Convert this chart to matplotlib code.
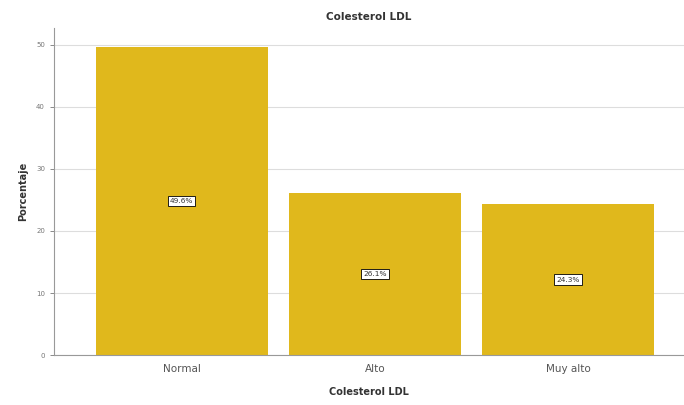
import matplotlib
matplotlib.use("Agg")
from matplotlib import pyplot as plt

# data
categories = ["Normal", "Alto", "Muy alto"]
percentages = [49.6, 26.1, 24.3]
bar_labels = ["49.6%", "26.1%", "24.3%"]
y_ticks = [0, 10, 20, 30, 40, 50]

bar_color = "#E0B81C"

fig = plt.figure(figsize=(6.84, 4.05), dpi=100)
ax = fig.add_axes([0.079, 0.123, 0.921, 0.807])

x = list(range(len(categories)))
ax.bar(x, percentages, width=0.89, color=bar_color, zorder=2)

for xi, val, lab in zip(x, percentages, bar_labels):
    ax.text(xi, val / 2, lab, ha="center", va="center", fontsize=5.3, color="#333333",
            bbox=dict(boxstyle="square,pad=0.3", fc="white", ec="black", lw=0.6), zorder=3)

ax.set_xlim(-0.66, 2.6)
ax.set_ylim(0, 52.6)
ax.set_yticks(y_ticks)
ax.set_xticks(x)
ax.set_xticklabels(categories, fontsize=7.5, color="#555555")
ax.tick_params(axis="y", labelsize=5, colors="#777777", length=3, width=0.6)
ax.tick_params(axis="x", length=0, pad=6)

ax.grid(axis="y", color="#dddddd", lw=0.8, zorder=0)
for side in ["top", "right"]:
    ax.spines[side].set_visible(False)
for side in ["left", "bottom"]:
    ax.spines[side].set_color("#999999")
    ax.spines[side].set_linewidth(0.8)

ax.set_title("Colesterol LDL", fontsize=7.5, fontweight="bold", color="#333333", pad=6)
ax.set_xlabel("Colesterol LDL", fontsize=7, fontweight="bold", color="#333333", labelpad=10)
ax.set_ylabel("Porcentaje", fontsize=7, fontweight="bold", color="#333333", labelpad=6)

fig.savefig("out.png", dpi=100)
